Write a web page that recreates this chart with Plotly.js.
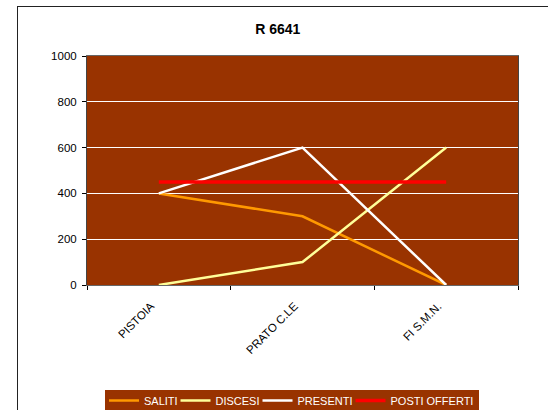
<!DOCTYPE html>
<html>
<head>
<meta charset="utf-8">
<script src="https://cdn.plot.ly/plotly-3.0.1.min.js"></script>
<style>
  html, body { margin: 0; padding: 0; background: #ffffff; }
  #wrap { position: relative; width: 548px; height: 410px; overflow: hidden; }
  #chart { width: 548px; height: 410px; }
  #frame { position: absolute; left: 17px; top: 6px; width: 540px; height: 420px;
           border: 1px solid #222; box-sizing: border-box; pointer-events: none; }
</style>
</head>
<body>
<div id="wrap">
  <div id="chart"></div>
  <div id="frame"></div>
</div>
<script>
const categories = ["PISTOIA", "PRATO C.LE", "FI S.M.N."];
const saliti = [400, 300, 0];
const discesi = [0, 100, 600];
const presenti = [400, 600, 0];
const postiOfferti = [450, 450, 450];
const yTicks = [0, 200, 400, 600, 800, 1000];
const seriesNames = ["SALITI", "DISCESI", "PRESENTI", "POSTI OFFERTI"];

const font = "Liberation Sans, Arial, sans-serif";
const W = 548, H = 410;
const mL = 87, mR = 30, mT = 56, mB = 125;
const pw = W - mL - mR, ph = H - mT - mB;
const px2x = p => (p - mL) / pw;
const px2y = p => (H - mB - p) / ph;

const traces = [
  { name: seriesNames[0], x: categories, y: saliti, type: "scatter", mode: "lines",
    line: { color: "#FF9900", width: 2.5 }, legend: "legend" },
  { name: seriesNames[1], x: categories, y: discesi, type: "scatter", mode: "lines",
    line: { color: "#FFFF99", width: 2.5 }, legend: "legend2" },
  { name: seriesNames[2], x: categories, y: presenti, type: "scatter", mode: "lines",
    line: { color: "#FFFFFF", width: 2.5 }, legend: "legend3" },
  { name: seriesNames[3], x: categories, y: postiOfferti, type: "scatter", mode: "lines",
    line: { color: "#FF0000", width: 3.5 }, legend: "legend4" }
];

const legendLefts = [104, 175.5, 257.5, 350.5];
function mkLegend(left) {
  return {
    orientation: "h", xref: "container", yref: "container",
    x: left / W, xanchor: "left", y: 1 - 386 / H, yanchor: "top",
    bgcolor: "rgba(0,0,0,0)", borderwidth: 0, itemwidth: 30,
    font: { family: font, size: 11, color: "#FFFFFF" }
  };
}

const layout = {
  width: W, height: H,
  margin: { l: mL, r: mR, t: mT, b: mB },
  paper_bgcolor: "rgba(0,0,0,0)",
  plot_bgcolor: "#993300",
  font: { family: font, size: 10, color: "#000" },
  title: { text: "<b>R 6641</b>", font: { family: font, size: 14, color: "#000" },
           xref: "container", x: 0.507, xanchor: "center", yref: "container", y: 1 - 29 / H, yanchor: "middle" },
  xaxis: {
    type: "category", range: [-0.5, 2.5], tickson: "boundaries",
    ticks: "outside", ticklen: 4, tickcolor: "#000", tickangle: -45,
    ticklabelstandoff: 9, ticklabelshift: -8,
    showline: true, linecolor: "#666", linewidth: 1, mirror: true,
    showgrid: false, zeroline: false, tickfont: { family: font, size: 11.5, color: "#000" }
  },
  yaxis: {
    range: [0, 1000], tickvals: yTicks, ticktext: yTicks.map(String),
    ticks: "outside", ticklen: 4, tickcolor: "#000", ticklabelstandoff: 3,
    showline: true, linecolor: "#444", linewidth: 1, mirror: true,
    showgrid: true, gridcolor: "#FFFFFF", gridwidth: 1, zeroline: false,
    tickfont: { family: font, size: 11.5, color: "#000" }
  },
  showlegend: true,
  legend: mkLegend(legendLefts[0]),
  legend2: mkLegend(legendLefts[1]),
  legend3: mkLegend(legendLefts[2]),
  legend4: mkLegend(legendLefts[3]),
  shapes: [{
    type: "rect", xref: "paper", yref: "paper", layer: "below",
    x0: px2x(105), x1: px2x(479), y0: px2y(390), y1: px2y(420),
    fillcolor: "#993300", line: { width: 0 }
  }]
};

Plotly.newPlot("chart", traces, layout, { displayModeBar: false, staticPlot: true });
</script>
</body>
</html>
